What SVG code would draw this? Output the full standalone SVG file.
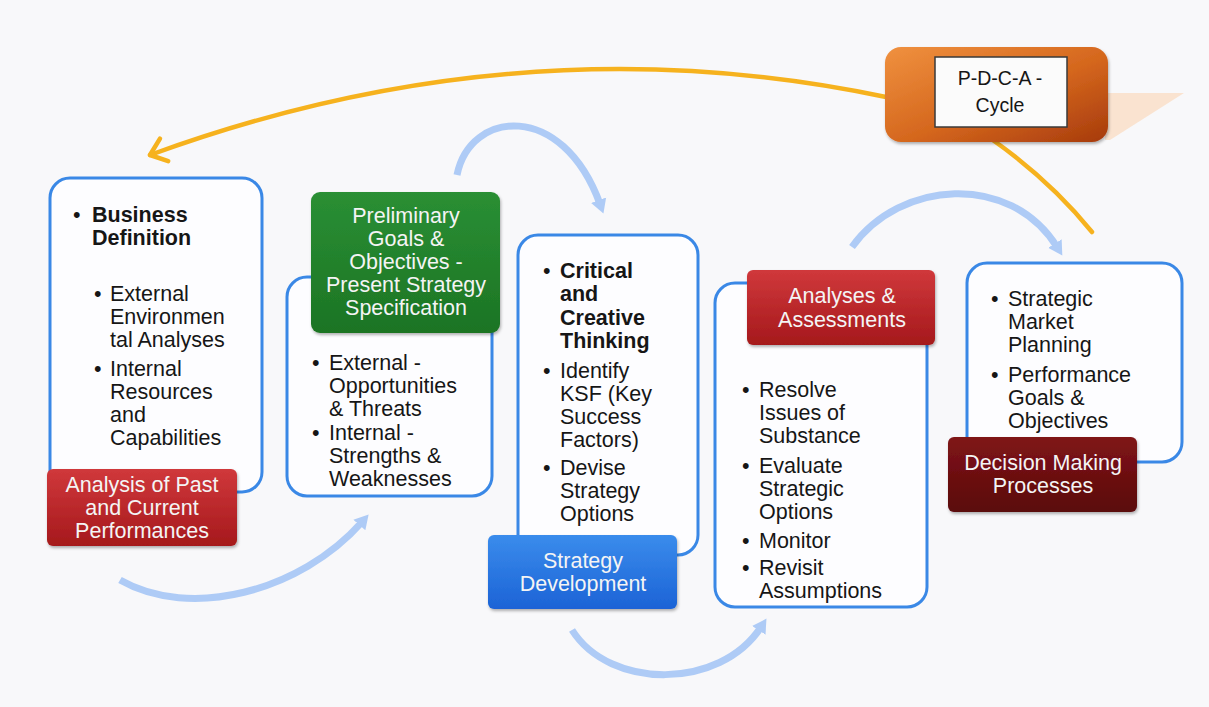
<svg xmlns="http://www.w3.org/2000/svg" width="1209" height="707" viewBox="0 0 1209 707">
  <defs>
    <style>
      .frame { fill: #fdfdff; stroke: #3a88e6; stroke-width: 3; }
      .txt { font-family: "Liberation Sans", Arial, sans-serif; font-size: 21.5px; fill: #161616; }
      .bold { font-weight: bold; }
      .lbl { font-family: "Liberation Sans", Arial, sans-serif; font-size: 21.5px; fill: #f4f4f4; text-anchor: middle; }
      .flow { fill: none; stroke: #aecbf6; stroke-width: 7; }
      .cycle { fill: none; stroke: #f6b21e; stroke-width: 4.5; stroke-linecap: round; }
    </style>
    <linearGradient id="gRed" x1="0" y1="0" x2="0" y2="1">
      <stop offset="0" stop-color="#d0383b"/>
      <stop offset="1" stop-color="#a5191c"/>
    </linearGradient>
    <linearGradient id="gGreen" x1="0" y1="0" x2="0" y2="1">
      <stop offset="0" stop-color="#2a8f34"/>
      <stop offset="1" stop-color="#1c7424"/>
    </linearGradient>
    <linearGradient id="gBlue" x1="0" y1="0" x2="0" y2="1">
      <stop offset="0" stop-color="#3a8cec"/>
      <stop offset="1" stop-color="#1c63d6"/>
    </linearGradient>
    <linearGradient id="gMaroon" x1="0" y1="0" x2="0" y2="1">
      <stop offset="0" stop-color="#801518"/>
      <stop offset="1" stop-color="#5a070a"/>
    </linearGradient>
    <linearGradient id="gOrange" x1="0" y1="0" x2="1" y2="1">
      <stop offset="0" stop-color="#f0913f"/>
      <stop offset="0.55" stop-color="#d4661d"/>
      <stop offset="1" stop-color="#a63a0c"/>
    </linearGradient>
    <filter id="shadow" x="-10%" y="-10%" width="125%" height="130%">
      <feDropShadow dx="1" dy="2" stdDeviation="1.5" flood-color="#000" flood-opacity="0.3"/>
    </filter>
    <marker id="headBlue" markerUnits="userSpaceOnUse" markerWidth="24" markerHeight="24" refX="4" refY="10" orient="auto">
      <path d="M0,2 L14,10 L0,18 Z" fill="#aecbf6"/>
    </marker>
    <marker id="headOrange" markerUnits="userSpaceOnUse" markerWidth="30" markerHeight="30" refX="18" refY="15" orient="auto">
      <path d="M3,3 L18,15 L3,27" fill="none" stroke="#f6b21e" stroke-width="4.5" stroke-linecap="round" stroke-linejoin="round"/>
    </marker>
  </defs>

  <rect x="0" y="0" width="1209" height="707" fill="#f8f8fa"/>

  <!-- connectors -->
  <g id="connectors">
    <path class="cycle" d="M886,97 Q520,20 150,155" marker-end="url(#headOrange)"/>
    <path class="cycle" d="M990,138 Q1050,180 1092,232"/>
    <path class="flow" d="M120,580 C190,620 300,592 362,522" marker-end="url(#headBlue)"/>
    <path class="flow" d="M457,175 C470,110 562,100 600,204" marker-end="url(#headBlue)"/>
    <path class="flow" d="M572,630 C610,690 720,690 761,627" marker-end="url(#headBlue)"/>
    <path class="flow" d="M852,247 C900,180 1010,172 1057,247" marker-end="url(#headBlue)"/>
  </g>

  <!-- PDCA cycle badge -->
  <g id="pdca">
    <polygon points="1105,93 1184,93 1110,140 1105,140" fill="#fbdcc2" opacity="0.75"/>
    <rect x="885" y="47" width="223" height="95" rx="16" fill="url(#gOrange)" filter="url(#shadow)"/>
    <rect x="935" y="57" width="132" height="70" fill="#fbfbfb" stroke="#3a3a3a" stroke-width="1.5"/>
    <text class="txt" x="1000" y="85" text-anchor="middle" style="font-size:19.5px">P-D-C-A -</text>
    <text class="txt" x="1000" y="112" text-anchor="middle" style="font-size:19.5px">Cycle</text>
  </g>

  <!-- stage 1: analysis of past and current performances -->
  <g id="analysis">
    <rect class="frame" x="50" y="178" width="212" height="314" rx="20"/>
    <text class="txt"><tspan x="73" y="222">•</tspan></text>
    <text class="txt bold"><tspan x="92" y="222">Business</tspan><tspan x="92" y="245">Definition</tspan></text>
    <text class="txt"><tspan x="94" y="301">•</tspan><tspan x="110" y="301">External</tspan><tspan x="110" y="324">Environmen</tspan><tspan x="110" y="347">tal Analyses</tspan></text>
    <text class="txt"><tspan x="94" y="376">•</tspan><tspan x="110" y="376">Internal</tspan><tspan x="110" y="399">Resources</tspan><tspan x="110" y="422">and</tspan><tspan x="110" y="445">Capabilities</tspan></text>
    <rect x="47" y="469" width="190" height="77" rx="6" fill="url(#gRed)" filter="url(#shadow)"/>
    <text class="lbl"><tspan x="142" y="492">Analysis of Past</tspan><tspan x="142" y="515">and Current</tspan><tspan x="142" y="538">Performances</tspan></text>
  </g>

  <!-- stage 2: preliminary goals and objectives -->
  <g id="goals">
    <rect class="frame" x="287" y="277" width="205" height="219" rx="20"/>
    <rect x="311" y="192" width="189" height="141" rx="9" fill="url(#gGreen)" filter="url(#shadow)"/>
    <text class="lbl"><tspan x="406" y="223">Preliminary</tspan><tspan x="406" y="246">Goals &amp;</tspan><tspan x="406" y="269">Objectives -</tspan><tspan x="406" y="292">Present Strategy</tspan><tspan x="406" y="315">Specification</tspan></text>
    <text class="txt"><tspan x="312" y="370">•</tspan><tspan x="329" y="370">External -</tspan><tspan x="329" y="393">Opportunities</tspan><tspan x="329" y="416">&amp; Threats</tspan></text>
    <text class="txt"><tspan x="312" y="440">•</tspan><tspan x="329" y="440">Internal -</tspan><tspan x="329" y="463">Strengths &amp;</tspan><tspan x="329" y="486">Weaknesses</tspan></text>
  </g>

  <!-- stage 3: strategy development -->
  <g id="strategy">
    <rect class="frame" x="518" y="235" width="180" height="320" rx="20"/>
    <text class="txt"><tspan x="543" y="278">•</tspan></text>
    <text class="txt bold"><tspan x="560" y="278">Critical</tspan><tspan x="560" y="301">and</tspan><tspan x="560" y="325">Creative</tspan><tspan x="560" y="348">Thinking</tspan></text>
    <text class="txt"><tspan x="543" y="378">•</tspan><tspan x="560" y="378">Identify</tspan><tspan x="560" y="401">KSF (Key</tspan><tspan x="560" y="424">Success</tspan><tspan x="560" y="447">Factors)</tspan></text>
    <text class="txt"><tspan x="543" y="475">•</tspan><tspan x="560" y="475">Devise</tspan><tspan x="560" y="498">Strategy</tspan><tspan x="560" y="521">Options</tspan></text>
    <rect x="488" y="535" width="189" height="74" rx="6" fill="url(#gBlue)" filter="url(#shadow)"/>
    <text class="lbl"><tspan x="583" y="568">Strategy</tspan><tspan x="583" y="591">Development</tspan></text>
  </g>

  <!-- stage 4: analyses and assessments -->
  <g id="assessments">
    <rect class="frame" x="715" y="283" width="212" height="324" rx="20"/>
    <rect x="747" y="270" width="188" height="75" rx="6" fill="url(#gRed)" filter="url(#shadow)"/>
    <text class="lbl"><tspan x="842" y="303">Analyses &amp;</tspan><tspan x="842" y="327">Assessments</tspan></text>
    <text class="txt"><tspan x="742" y="397">•</tspan><tspan x="759" y="397">Resolve</tspan><tspan x="759" y="420">Issues of</tspan><tspan x="759" y="443">Substance</tspan></text>
    <text class="txt"><tspan x="742" y="473">•</tspan><tspan x="759" y="473">Evaluate</tspan><tspan x="759" y="496">Strategic</tspan><tspan x="759" y="519">Options</tspan></text>
    <text class="txt"><tspan x="742" y="548">•</tspan><tspan x="759" y="548">Monitor</tspan></text>
    <text class="txt"><tspan x="742" y="575">•</tspan><tspan x="759" y="575">Revisit</tspan><tspan x="759" y="598">Assumptions</tspan></text>
  </g>

  <!-- stage 5: decision making processes -->
  <g id="decision">
    <rect class="frame" x="967" y="263" width="215" height="199" rx="20"/>
    <text class="txt"><tspan x="991" y="306">•</tspan><tspan x="1008" y="306">Strategic</tspan><tspan x="1008" y="329">Market</tspan><tspan x="1008" y="352">Planning</tspan></text>
    <text class="txt"><tspan x="991" y="382">•</tspan><tspan x="1008" y="382">Performance</tspan><tspan x="1008" y="405">Goals &amp;</tspan><tspan x="1008" y="428">Objectives</tspan></text>
    <rect x="948" y="437" width="189" height="75" rx="6" fill="url(#gMaroon)" filter="url(#shadow)"/>
    <text class="lbl"><tspan x="1043" y="470">Decision Making</tspan><tspan x="1043" y="493">Processes</tspan></text>
  </g>
</svg>
